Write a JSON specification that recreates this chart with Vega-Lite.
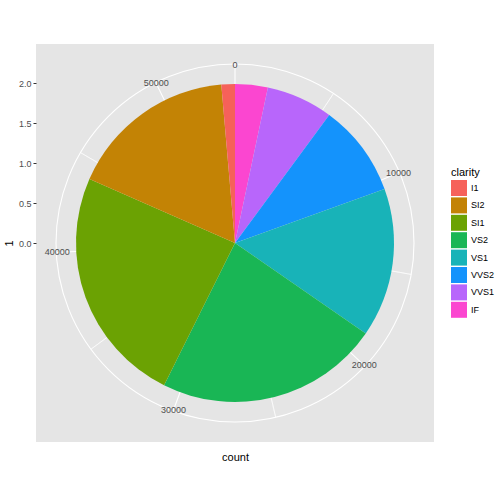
{
  "$schema": "https://vega.github.io/schema/vega-lite/v6.json",
  "width": 398,
  "height": 398,
  "autosize": {"type": "none"},
  "padding": {"left": 36, "top": 44, "right": 70, "bottom": 62},
  "background": "white",
  "view": {"fill": "#E5E5E5", "stroke": null},
  "config": {
    "view": {"fill": "#E5E5E5", "stroke": null},
    "font": "Liberation Sans"
  },
  "layer": [
    {
      "data": {"values": [{"v": 0}]},
      "mark": {"type": "point", "opacity": 0},
      "encoding": {
        "x": {
          "field": "v", "type": "quantitative",
          "scale": {"domain": [-2.4875, 2.4875]},
          "axis": {"title": "count", "labels": false, "ticks": false, "domain": false, "grid": false,
                   "titlePadding": 9, "titleFontSize": 11, "titleFontWeight": "normal", "titleColor": "black"}
        },
        "y": {
          "field": "v", "type": "quantitative",
          "scale": {"domain": [-2.4875, 2.4875]},
          "axis": {"title": "1", "values": [0, 0.5, 1, 1.5, 2], "format": ".1f", "grid": false, "domain": false,
                   "tickSize": 3, "tickColor": "#333333", "labelColor": "#4D4D4D", "labelFontSize": 9,
                   "labelPadding": 2, "titleFontSize": 11, "titleFontWeight": "normal", "titleColor": "black",
                   "titlePadding": 4}
        }
      }
    },
    {
      "data": {"values": [{"b": 5000}, {"b": 15000}, {"b": 25000}, {"b": 35000}, {"b": 45000}]},
      "mark": {"type": "arc", "radius": 179, "radius2": 0, "fill": null, "stroke": "white", "strokeWidth": 0.55},
      "encoding": {
        "theta": {"field": "b", "type": "quantitative", "stack": null, "scale": {"domain": [0, 53940]}},
        "theta2": {"field": "b"}
      }
    },
    {
      "data": {"values": [{"b": 0}, {"b": 10000}, {"b": 20000}, {"b": 30000}, {"b": 40000}, {"b": 50000}]},
      "mark": {"type": "arc", "radius": 179, "radius2": 0, "fill": null, "stroke": "white", "strokeWidth": 1.1},
      "encoding": {
        "theta": {"field": "b", "type": "quantitative", "stack": null, "scale": {"domain": [0, 53940]}},
        "theta2": {"field": "b"}
      }
    },
    {
      "data": {"values": [{"c": 1}]},
      "mark": {"type": "arc", "theta": 0, "theta2": 6.2832, "radius": 179, "radius2": 179, "fill": null, "stroke": "white", "strokeWidth": 1.1},
      "encoding": {}
    },
    {
      "data": {
        "values": [
          {"clarity": "IF", "count": 1790, "k": 1},
          {"clarity": "VVS1", "count": 3655, "k": 2},
          {"clarity": "VVS2", "count": 5066, "k": 3},
          {"clarity": "VS1", "count": 8171, "k": 4},
          {"clarity": "VS2", "count": 12258, "k": 5},
          {"clarity": "SI1", "count": 13065, "k": 6},
          {"clarity": "SI2", "count": 9194, "k": 7},
          {"clarity": "I1", "count": 741, "k": 8}
        ]
      },
      "mark": {"type": "arc", "radius": 159},
      "encoding": {
        "theta": {"field": "count", "type": "quantitative", "stack": true, "scale": {"domain": [0, 53940]}},
        "order": {"field": "k", "type": "quantitative"},
        "color": {
          "field": "clarity", "type": "nominal",
          "scale": {
            "domain": ["I1", "SI2", "SI1", "VS2", "VS1", "VVS2", "VVS1", "IF"],
            "range": ["#F6615A", "#C38305", "#6BA203", "#19B655", "#18B3B8", "#1493FC", "#B866FB", "#FB46D0"]
          },
          "legend": {
            "orient": "none", "legendX": 415, "legendY": 123,
            "title": "clarity", "titleFontSize": 11, "titleFontWeight": "normal", "titleColor": "black",
            "titlePadding": 2, "labelFontSize": 9, "labelColor": "black", "labelOffset": 4,
            "symbolType": "square", "symbolSize": 256, "symbolStrokeWidth": 0, "rowPadding": 1.4
          }
        }
      }
    },
    {
      "data": {
        "values": [
          {"b": 0, "lab": "0"}, {"b": 10000, "lab": "10000"}, {"b": 20000, "lab": "20000"},
          {"b": 30000, "lab": "30000"}, {"b": 40000, "lab": "40000"}, {"b": 50000, "lab": "50000"}
        ]
      },
      "mark": {"type": "text", "radius": 178, "fontSize": 9, "color": "#4D4D4D"},
      "encoding": {
        "theta": {"field": "b", "type": "quantitative", "stack": null, "scale": {"domain": [0, 53940]}},
        "text": {"field": "lab"}
      }
    }
  ]
}
